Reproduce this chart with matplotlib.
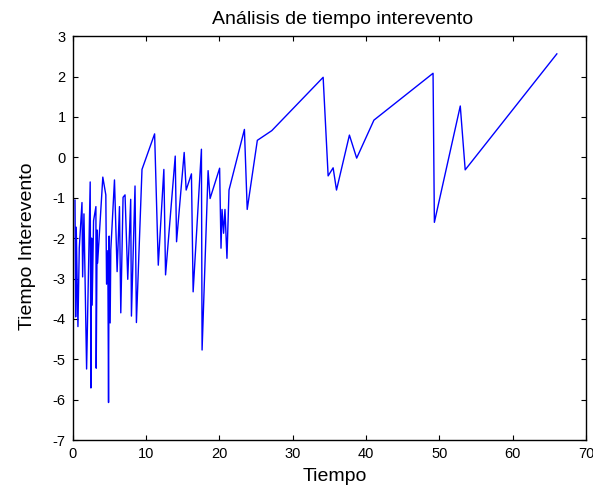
import numpy as np
import matplotlib
matplotlib.use("Agg")
import matplotlib.pyplot as plt

plt.rcParams['font.family'] = ['Liberation Sans', 'DejaVu Sans']
plt.rcParams['axes.unicode_minus'] = False

# event times and inter-event values
tiempo = [0.33, 0.42, 0.50, 0.73, 0.91, 1.28, 1.37, 1.55, 1.91, 2.40,
          2.50, 2.59, 2.67, 2.86, 3.18, 3.22, 3.35, 3.41, 4.12, 4.53,
          4.63, 4.80, 4.90, 4.98, 5.12, 5.21, 5.71, 6.07, 6.39, 6.57,
          6.88, 7.15, 7.52, 7.92, 8.02, 8.51, 8.70, 9.46, 11.18, 11.68,
          12.44, 12.67, 13.99, 14.17, 15.21, 15.48, 16.20, 16.43, 17.56, 17.65,
          18.47, 18.74, 20.04, 20.23, 20.37, 20.58, 20.77, 21.04, 21.32, 23.42,
          23.80, 25.18, 27.15, 34.15, 34.83, 35.51, 35.97, 37.73, 38.72, 41.07,
          49.13, 49.31, 52.84, 53.51, 66.00]
intervento = [-1.06, -3.95, -1.73, -4.19, -2.25, -1.12, -2.96, -1.40, -5.24, -0.61,
              -5.71, -2.00, -3.66, -1.57, -1.22, -5.22, -1.80, -2.62, -0.49, -0.93,
              -3.14, -2.31, -6.07, -1.95, -4.10, -2.29, -0.56, -2.83, -1.22, -3.85,
              -0.99, -0.93, -3.02, -1.04, -3.93, -0.71, -4.09, -0.30, 0.58, -2.67,
              -0.30, -2.91, 0.03, -2.09, 0.12, -0.81, -0.41, -3.33, 0.20, -4.77,
              -0.33, -1.02, -0.27, -2.25, -1.29, -1.88, -1.29, -2.50, -0.81, 0.69,
              -1.29, 0.42, 0.66, 1.98, -0.46, -0.26, -0.81, 0.55, -0.02, 0.92,
              2.08, -1.61, 1.27, -0.31, 2.56]

xticks = np.arange(0, 71, 10)
yticks = np.arange(-7, 4, 1)

fig = plt.figure(figsize=(5.93, 4.96), dpi=100)
ax = fig.add_axes([0.1224, 0.1127, 0.8661, 0.8145])

ax.plot(tiempo, intervento, color='#0000ff', linewidth=1.0)

ax.set_xlim(0, 70)
ax.set_ylim(-7, 3)
ax.set_xticks(xticks)
ax.set_yticks(yticks)
ax.tick_params(direction='in', top=True, right=True, length=3.6, width=0.8,
               labelsize=10.5, pad=5)
for s in ax.spines.values():
    s.set_linewidth(1.0)

ax.set_title('Análisis de tiempo interevento', fontsize=14, pad=9, x=0.525)
ax.set_xlabel('Tiempo', fontsize=14, labelpad=5, x=0.51)
ax.set_ylabel('Tiempo Interevento', fontsize=14, labelpad=12, y=0.48)

fig.savefig('out.png', dpi=100)
